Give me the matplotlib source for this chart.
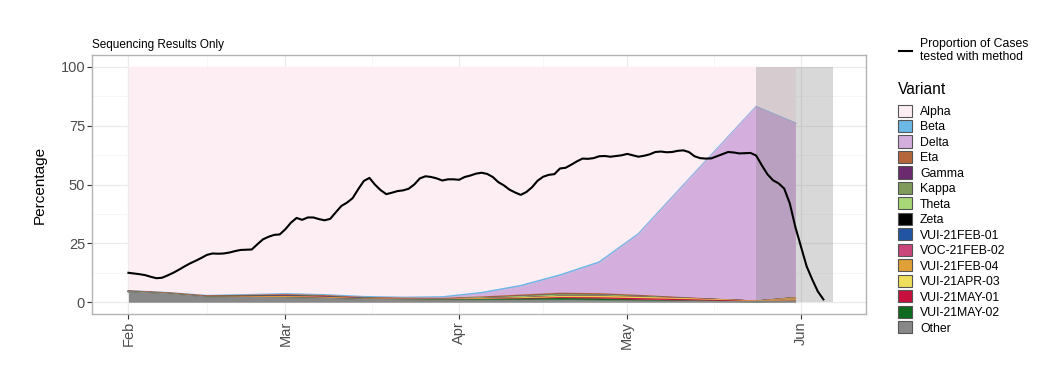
import numpy as np
import pandas as pd
import matplotlib
matplotlib.use('Agg')
import matplotlib.pyplot as plt
import matplotlib.dates as mdates
from matplotlib.patches import Patch
from matplotlib.lines import Line2D

plt.rcParams['font.family'] = ['Liberation Sans', 'DejaVu Sans']

# weekly variant proportions (percent of sequenced cases)
week_dates = ['2021-02-01', '2021-02-08', '2021-02-15', '2021-02-22', '2021-03-01', '2021-03-08',
              '2021-03-15', '2021-03-22', '2021-03-29', '2021-04-05', '2021-04-12', '2021-04-19',
              '2021-04-26', '2021-05-03', '2021-05-10', '2021-05-17', '2021-05-24', '2021-05-31']

variants = ['Alpha', 'Beta', 'Delta', 'Eta', 'Gamma', 'Kappa', 'Theta', 'Zeta', 'VUI-21FEB-01',
            'VOC-21FEB-02', 'VUI-21FEB-04', 'VUI-21APR-03', 'VUI-21MAY-01', 'VUI-21MAY-02', 'Other']

colors = ['#fdeef4', '#6cb8e6', '#d4afdd', '#b5673b', '#6a2a6d', '#7f9a5a', '#a8d777', '#000000',
          '#2155a3', '#c9457a', '#e0a035', '#eede5b', '#c8103e', '#0d6a1f', '#888888']

alpha_v = [95.2, 96.0, 97.25, 96.9, 96.5, 96.9, 97.7, 98.0, 97.8, 96.0, 93.0, 88.5,
           83.0, 71.0, 52.95, 34.95, 17.0, 24.0]
beta_v = [0, 0, 0.05, 0.2, 0.3, 0.3, 0.3, 0.3, 0.4, 0.5, 0.5, 0.5, 0.5, 0.4, 0.3, 0.2, 0.1, 0.1]
delta_v = [0, 0, 0, 0, 0, 0, 0, 0, 0.2, 1.3, 3.5, 7.2, 12.9, 25.7, 44.7, 63.6, 82.4, 73.9]
eta_v = [0.2, 0.2, 0.3, 0.4, 0.4, 0.4, 0.3, 0.2, 0.2, 0.3, 0.4, 0.4, 0.4, 0.3, 0.2, 0.1, 0, 0.1]
gamma_v = [0, 0, 0, 0.05, 0.05, 0.05, 0.05, 0.05, 0.05, 0.05, 0.1, 0.1, 0.1, 0.05, 0.05, 0.02, 0, 0]
kappa_v = [0, 0, 0, 0, 0, 0, 0, 0, 0, 0.1, 0.3, 0.5, 0.4, 0.3, 0.1, 0.05, 0, 0]
theta_v = [0, 0, 0, 0, 0.05, 0.05, 0.05, 0.05, 0.05, 0.2, 0.3, 0.3, 0.2, 0.1, 0.05, 0, 0, 0]
zeta_v = [0, 0, 0, 0.05, 0.05, 0.05, 0, 0, 0, 0, 0, 0, 0, 0, 0, 0, 0, 0]
vui_feb01 = [0, 0, 0, 0.05, 0.1, 0.05, 0.05, 0, 0, 0, 0, 0, 0, 0, 0, 0, 0, 0]
voc_feb02 = [0, 0, 0.05, 0.1, 0.2, 0.2, 0.1, 0.1, 0.05, 0.05, 0.05, 0.05, 0.05, 0.05, 0.05, 0.03, 0, 0]
vui_feb04 = [0.1, 0.2, 0.15, 0.25, 0.45, 0.4, 0.25, 0.2, 0.2, 0.2, 0.2, 0.2, 0.2, 0.2, 0.15, 0.1, 0.1, 1.2]
vui_apr03 = [0, 0, 0, 0, 0, 0, 0, 0, 0.05, 0.1, 0.2, 0.35, 0.4, 0.4, 0.3, 0.2, 0.1, 0.2]
vui_may01 = [0, 0, 0, 0, 0, 0, 0, 0, 0, 0.1, 0.2, 0.4, 0.6, 0.7, 0.6, 0.4, 0.1, 0.2]
vui_may02 = [0, 0, 0, 0, 0, 0, 0, 0.1, 0.1, 0.3, 0.45, 0.8, 0.65, 0.3, 0.15, 0.05, 0, 0]
other_v = [4.5, 3.6, 2.2, 2.0, 1.9, 1.6, 1.2, 1.0, 0.9, 0.8, 0.8, 0.7, 0.6, 0.5, 0.4, 0.3, 0.2, 0.3]

# daily proportion of cases tested with sequencing, from 2021-02-01
prop_tested = [12.5, 12.2, 11.9, 11.5, 10.8, 10.2, 10.4, 11.4, 12.5, 13.8,
               15.2, 16.5, 17.6, 18.8, 20.1, 20.7, 20.6, 20.7, 21.1, 21.7,
               22.2, 22.3, 22.4, 24.6, 26.7, 27.8, 28.6, 28.8, 31.0, 33.8,
               35.8, 35.0, 36.0, 36.0, 35.3, 34.8, 35.4, 38.2, 40.9, 42.3,
               44.2, 48.0, 51.5, 52.8, 49.9, 47.6, 45.9, 46.5, 47.2, 47.5,
               48.2, 50.0, 52.6, 53.5, 53.2, 52.6, 51.7, 52.2, 52.2, 52.0,
               53.2, 53.8, 54.6, 55.0, 54.5, 53.2, 51.0, 49.6, 47.8, 46.6,
               45.6, 46.8, 48.8, 51.6, 53.3, 54.1, 54.4, 56.8, 57.1, 58.4,
               59.8, 61.0, 60.9, 61.2, 62.0, 62.1, 61.8, 62.1, 62.4, 63.0,
               62.4, 61.8, 62.2, 62.8, 63.8, 64.0, 63.7, 63.8, 64.3, 64.5,
               63.8, 62.0, 61.2, 61.0, 61.1, 62.0, 62.9, 63.8, 63.6, 63.2,
               63.3, 63.4, 62.3, 58.2, 54.4, 51.8, 50.5, 48.3, 42.0, 31.9,
               23.6, 15.3, 9.7, 4.6, 1.2]

shade_start = '2021-05-24 00:00'
shade_end = '2021-06-06 16:00'

series = [alpha_v, beta_v, delta_v, eta_v, gamma_v, kappa_v, theta_v, zeta_v, vui_feb01,
          voc_feb02, vui_feb04, vui_apr03, vui_may01, vui_may02, other_v]

wx = mdates.date2num(pd.to_datetime(week_dates))
dx = mdates.date2num(pd.date_range('2021-02-01', periods=len(prop_tested), freq='D'))

fig = plt.figure(figsize=(10.58, 3.70), dpi=100)
ax = fig.add_axes([92 / 1058, 1 - 314 / 370, (866 - 92) / 1058, (314 - 55) / 370])

# stack bottom -> top is the reverse of legend order (Other at bottom, Alpha on top)
vals = np.array(series, dtype=float)
tops = np.cumsum(vals[::-1], axis=0)[::-1]
bottoms = tops - vals
for i, name in enumerate(variants):
    ax.fill_between(wx, bottoms[i], tops[i], color=colors[i], lw=0, zorder=2 + i * 0.01)
    ax.plot(wx, tops[i], color=colors[i], lw=1.3 if name == 'Beta' else 0.9,
            zorder=2 + i * 0.01 + 0.005)

x0 = mdates.date2num(pd.Timestamp(shade_start))
x1 = mdates.date2num(pd.Timestamp(shade_end))
ax.fill_between([x0, x1], 0, 100, color='#7f7f7f', alpha=0.3, lw=0, zorder=3)

ax.plot(dx, prop_tested, color='black', lw=1.5, zorder=4)

feb1 = mdates.date2num(pd.Timestamp('2021-02-01'))
ax.set_xlim(feb1 - 6.5, feb1 + 131.6)
ax.set_ylim(-5, 105)

ax.set_yticks([0, 25, 50, 75, 100])
ax.set_yticks([12.5, 37.5, 62.5, 87.5], minor=True)
months = pd.to_datetime(['2021-02-01', '2021-03-01', '2021-04-01', '2021-05-01', '2021-06-01'])
ax.set_xticks(mdates.date2num(months))
ax.set_xticklabels(['Feb', 'Mar', 'Apr', 'May', 'Jun'], rotation=90)
minor_days = pd.to_datetime(['2021-02-15 00:00', '2021-03-16 12:00', '2021-04-16 00:00',
                             '2021-05-16 12:00'])
ax.set_xticks(mdates.date2num(minor_days), minor=True)

ax.grid(True, which='major', color='#ebebeb', lw=0.9, zorder=0)
ax.grid(True, which='minor', color='#f3f3f3', lw=0.5, zorder=0)
ax.set_axisbelow(True)
ax.tick_params(which='major', length=3.5, width=0.8, color='#333333', labelsize=10.5,
               labelcolor='#4d4d4d', pad=1.5)
ax.tick_params(which='minor', length=0)
for s in ax.spines.values():
    s.set_color('#b3b3b3')
    s.set_linewidth(1.0)

ax.set_ylabel('Percentage', fontsize=11, labelpad=10)
ax.set_title('Sequencing Results Only', loc='left', fontsize=8.5, pad=5)

# legends
leg1 = fig.legend(handles=[Line2D([], [], color='black', lw=1.5)],
                  labels=['Proportion of Cases\ntested with method'],
                  loc='upper left', bbox_to_anchor=(899 / 1058, 1 - 37.5 / 370),
                  frameon=False, fontsize=8.8, handlelength=1.1, handletextpad=0.65,
                  borderpad=0, borderaxespad=0)

fig.text(898 / 1058, 1 - 89 / 370, 'Variant', fontsize=11.2, va='center', ha='left')
handles = [Patch(facecolor=c, edgecolor='#555555', lw=0.8) for c in colors]
leg2 = fig.legend(handles=handles, labels=variants,
                  loc='upper left', bbox_to_anchor=(898 / 1058, 1 - 104.5 / 370),
                  frameon=False, fontsize=8.8, handlelength=1.14, handleheight=1.14,
                  handletextpad=0.65, labelspacing=0.19, borderpad=0, borderaxespad=0)

fig.savefig('out.png', dpi=100)
